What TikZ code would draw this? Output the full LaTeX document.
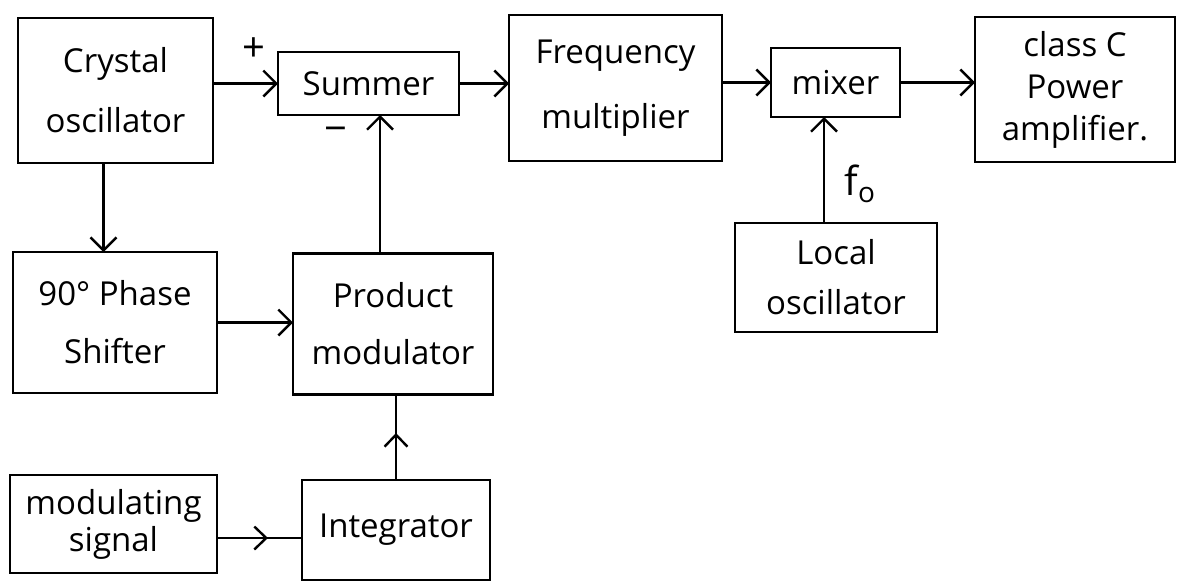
\documentclass[tikz,border=0pt]{standalone}
\usepackage{fontspec}
\setmainfont{Open Sans}
\usetikzlibrary{arrows.meta,decorations.markings}
\begin{document}
\begin{tikzpicture}[x=1pt,y=-1pt,
  block/.style={draw, line width=2.8pt, rectangle, inner sep=0pt, outer sep=0pt, align=center},
  lh/.style={font=\fontsize{33}{#1}\selectfont},
  lbl/.style={inner sep=0pt, font=\fontsize{40}{46}\selectfont},
  arr/.style={line width=2.4pt, -{Straight Barb[length=13pt,width=26pt,line width=2.4pt]}},
  midarr/.style={line width=2.4pt, postaction={decorate},
    decoration={markings, mark=at position #1 with {\arrow{Straight Barb[length=12pt,width=23pt,line width=2.4pt]}}}}
]
\useasboundingbox[fill=white] (0,0) rectangle (1177,582);

% top row
\node[block, lh=60, minimum width=195pt, minimum height=145pt] (xtal) at (115.5,90.5) {Crystal\\oscillator};
\node[block, lh=40, minimum width=181pt, minimum height=63pt] (summer) at (368.5,83.5) {Summer};
\node[block, lh=65, minimum width=213pt, minimum height=146pt] (freq) at (615.5,88) {Frequency\\multiplier};
\node[block, lh=40, minimum width=129pt, minimum height=69pt] (mixer) at (835.5,82.5) {mixer};
\node[block, lh=42, minimum width=200pt, minimum height=145pt] (classc) at (1075,89.5) {class C\\Power\\amplifier.};

% local oscillator
\node[block, lh=50, minimum width=202pt, minimum height=109pt] (local) at (836,277.5) {Local\\oscillator};

% middle row
\node[block, lh=58, minimum width=204pt, minimum height=141pt] (phase) at (115,322.5) {90° Phase\\Shifter};
\node[block, lh=57, minimum width=200pt, minimum height=141pt] (prod) at (393,324) {Product\\modulator};

% bottom row
\node[block, lh=37, minimum width=207pt, minimum height=98pt] (modsig) at (113.5,524) {modulating\\signal};
\node[block, lh=40, minimum width=188pt, minimum height=100pt] (integ) at (396,530) {Integrator};

% signal path
\draw[arr] (xtal.east |- summer.west) -- (summer.west);
\draw[arr] (summer.east) -- (summer.east -| freq.west);
\draw[arr] (freq.east |- mixer.west) -- (mixer.west);
\draw[arr] (mixer.east) -- (mixer.east -| classc.west);
\draw[arr] ([xshift=-12pt]local.north) -- ([xshift=-12pt]local.north |- mixer.south);
\draw[arr] ([xshift=-12pt]xtal.south) -- ([xshift=-12pt]xtal.south |- phase.north);
\draw[arr] (phase.east) -- (phase.east -| prod.west);
\draw[arr] ([xshift=-13pt]prod.north) -- ([xshift=-13pt]prod.north |- summer.south);
\draw[midarr=0.55] (integ.north) -- (integ.north |- prod.south);
\draw[midarr=0.6] ([yshift=-14pt]modsig.east) -- ([yshift=-14pt]modsig.east -| integ.west);

% labels
\node[lbl] (plus) at (254,50) {+};
\node[lbl] (minus) at (336,135) {−};
\node[lbl] (fo) at (860,184) {f\textsubscript{o}};
\end{tikzpicture}
\end{document}
